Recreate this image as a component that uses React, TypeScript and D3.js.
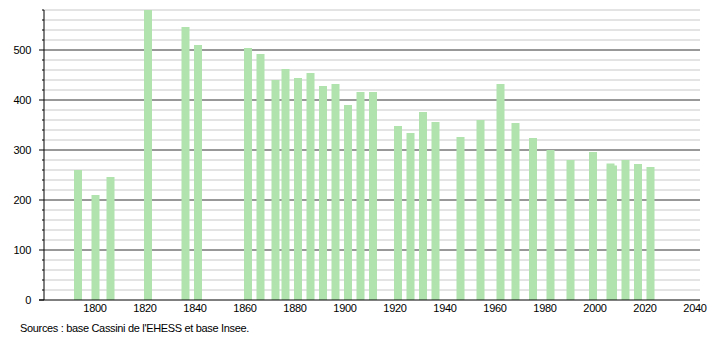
import React from "react";
import * as d3 from "d3";

const years = [1793, 1800, 1806, 1821, 1836, 1841, 1861, 1866, 1872, 1876, 1881, 1886, 1891, 1896, 1901, 1906, 1911, 1921, 1926, 1931, 1936, 1946, 1954, 1962, 1968, 1975, 1982, 1990, 1999, 2006, 2007, 2012, 2017, 2022];
const population = [260, 210, 246, 580, 546, 510, 504, 492, 440, 462, 444, 454, 428, 432, 390, 416, 416, 348, 334, 376, 356, 326, 360, 432, 354, 324, 300, 280, 296, 273, 269, 280, 272, 266];
const xTicks = [1800, 1820, 1840, 1860, 1880, 1900, 1920, 1940, 1960, 1980, 2000, 2020, 2040];
const yTicks = [0, 100, 200, 300, 400, 500];
const sourceText = "Sources : base Cassini de l'EHESS et base Insee.";

const W = 710;
const H = 340;
const FONT = "'Liberation Sans', Arial, sans-serif";

export default function App() {
  const x = d3.scaleLinear().domain([1779.6, 2042]).range([44, 700]);
  const y = d3.scaleLinear().domain([0, 580]).range([300, 10]);
  const minor = d3.range(20, 581, 20).filter((v) => v % 100 !== 0);
  const minorTicks = d3.range(0, 581, 20);
  return (
    <svg width={W} height={H} style={{ position: "absolute", left: 0, top: 0, background: "#fff" }} fontFamily={FONT}>
      {minor.map((v) => (
        <line key={"g" + v} x1={44} x2={700} y1={y(v)} y2={y(v)} stroke="#c8c8c8" strokeWidth={1} />
      ))}
      {yTicks.filter((v) => v > 0).map((v) => (
        <line key={"G" + v} x1={44} x2={700} y1={y(v)} y2={y(v)} stroke="#333" strokeWidth={1} />
      ))}
      {years.map((yr, i) => (
        <rect key={yr} x={x(yr) - 3.5} width={8} y={y(Math.min(population[i], 580))} height={y(0) - y(Math.min(population[i], 580))} fill="#b0e3ad" />
      ))}
      <line x1={44} x2={44} y1={10} y2={300} stroke="#000" strokeWidth={1} />
      <line x1={39} x2={700} y1={300} y2={300} stroke="#000" strokeWidth={1} />
      {minorTicks.map((v) => (
        <line key={"t" + v} x1={v % 100 === 0 ? 39 : 42} x2={44} y1={y(v)} y2={y(v)} stroke="#000" strokeWidth={1} />
      ))}
      {yTicks.map((v) => (
        <text key={"yl" + v} x={31} y={y(v) + 4} textAnchor="end" fontSize={11} letterSpacing="-0.3px" fill="#000">{v}</text>
      ))}
      {xTicks.map((v) => (
        <text key={"xl" + v} x={x(v)} y={312} textAnchor="middle" fontSize={11} letterSpacing="-0.3px" fill="#000">{v}</text>
      ))}
      <text x={20} y={332} fontSize={11} letterSpacing="-0.33px" fill="#000">{sourceText}</text>
    </svg>
  );
}
